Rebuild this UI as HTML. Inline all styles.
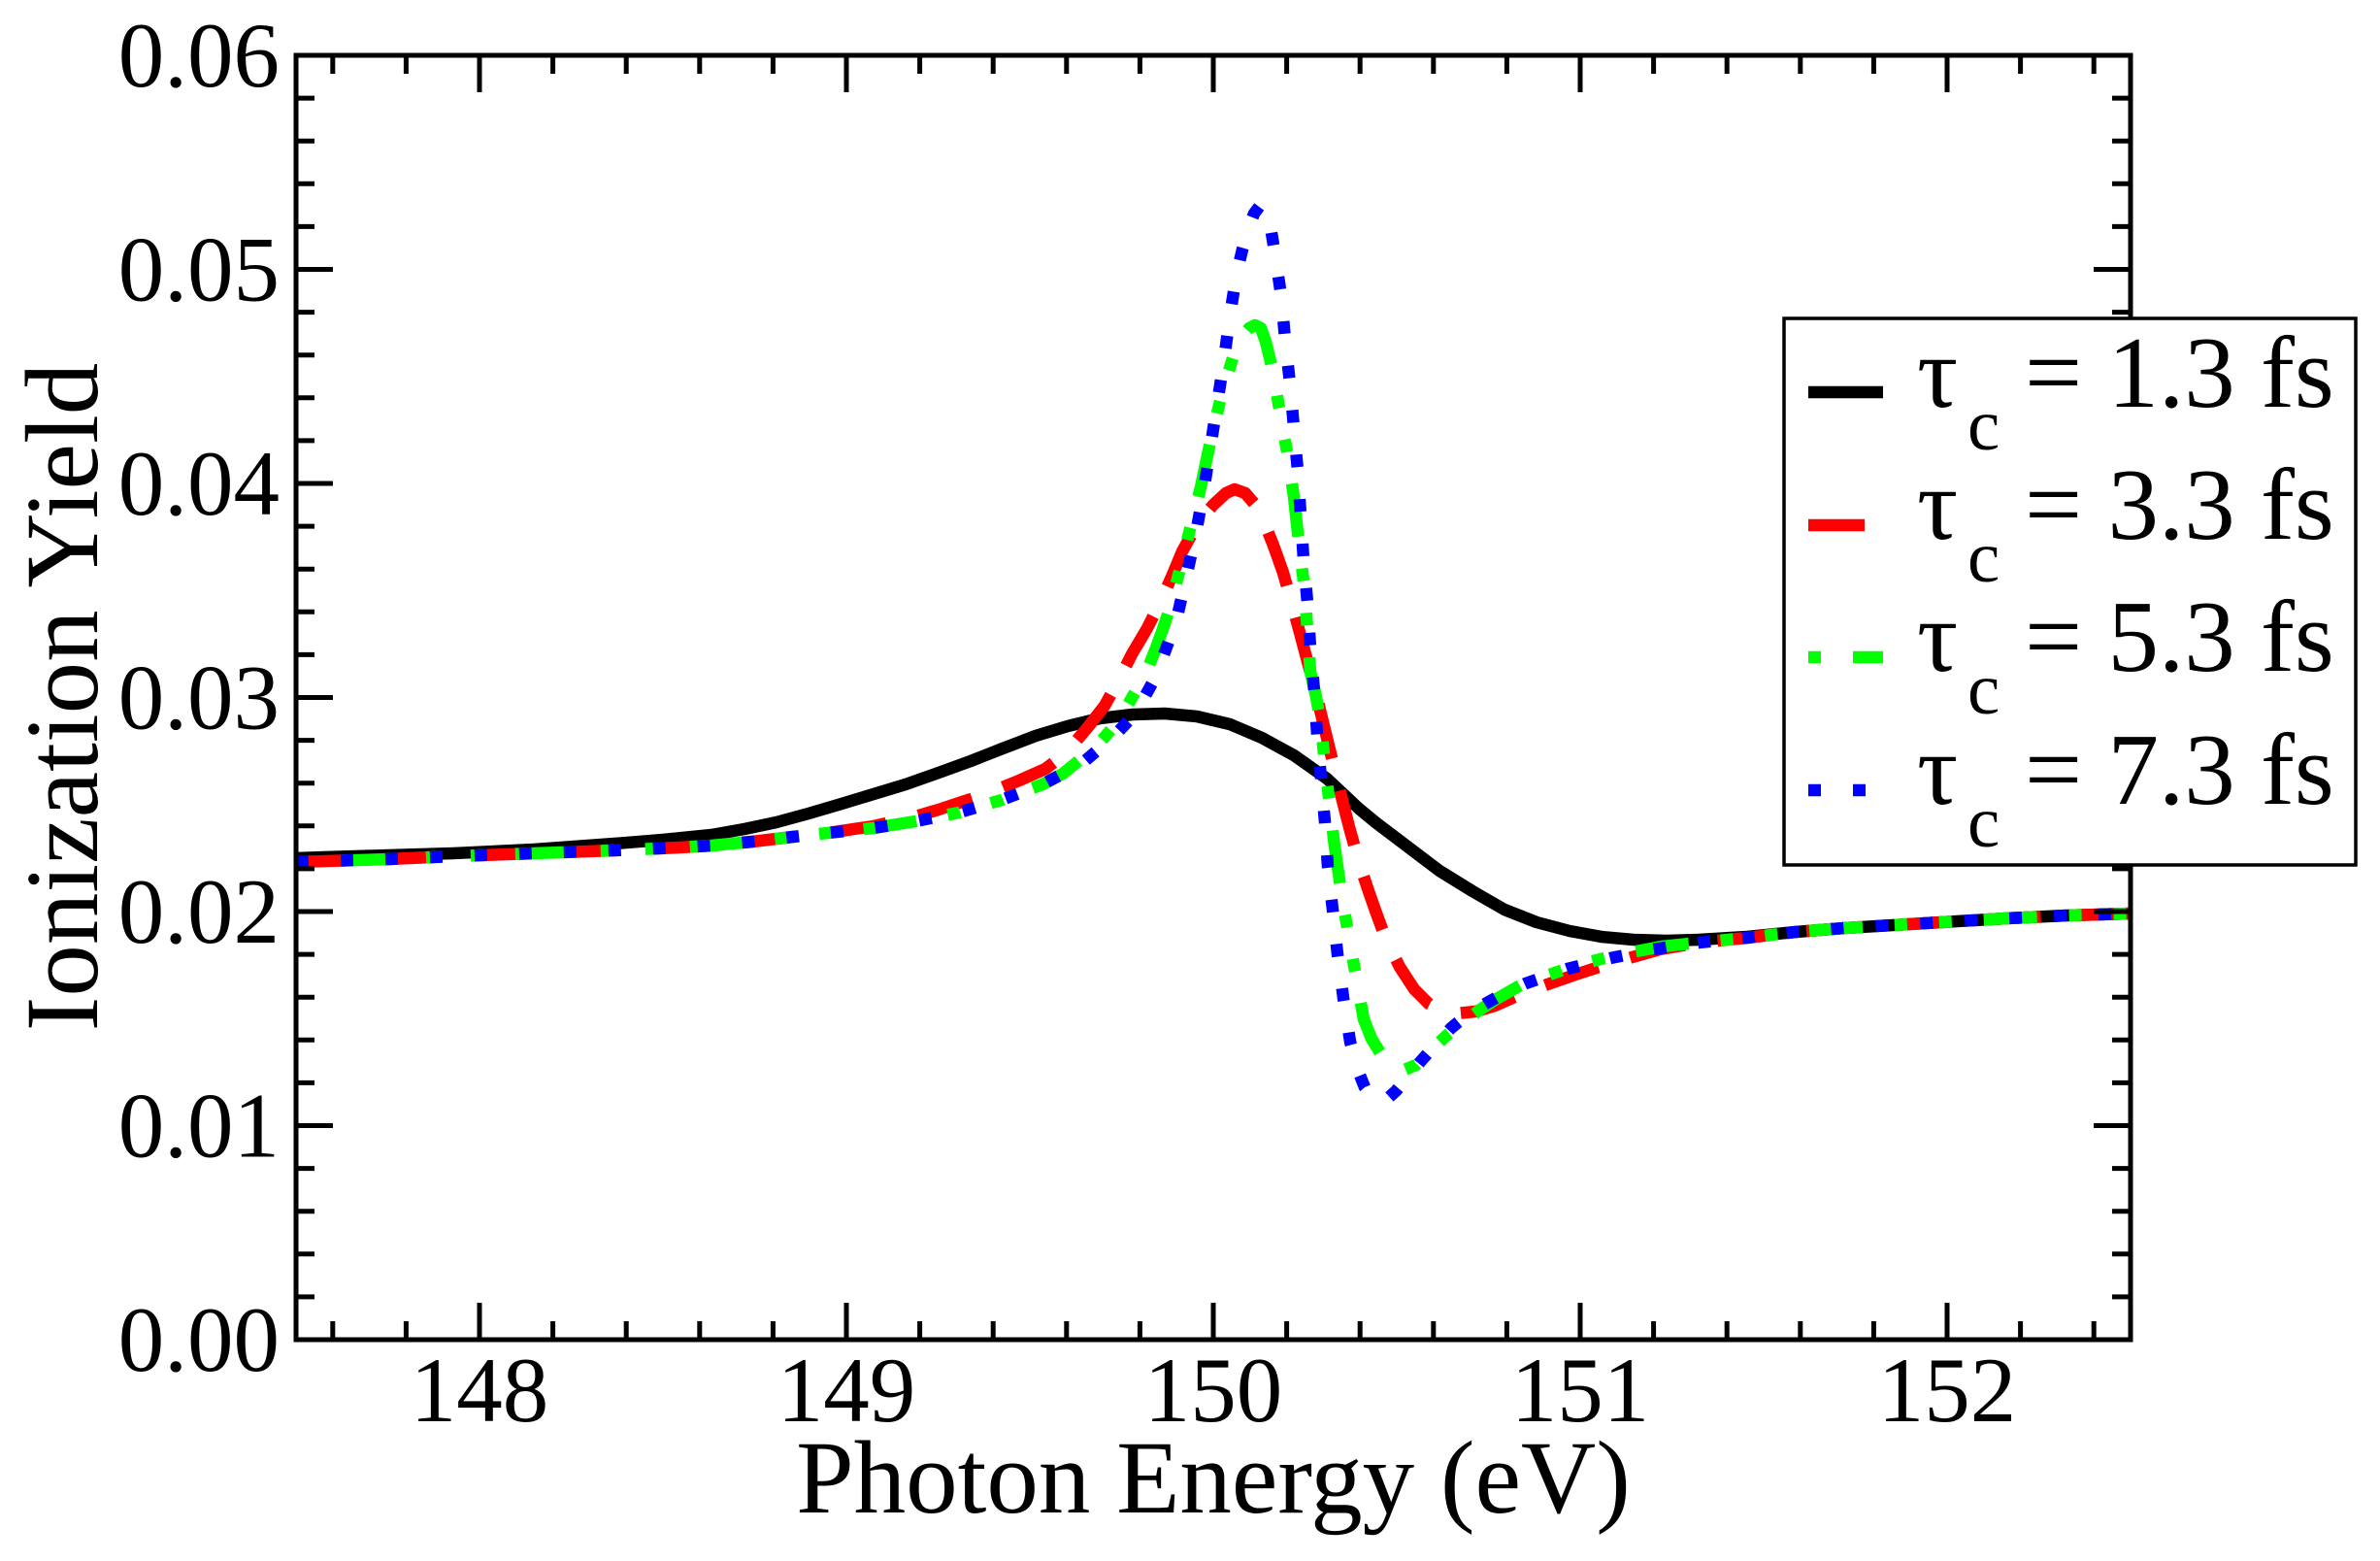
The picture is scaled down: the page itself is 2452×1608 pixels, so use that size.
<!DOCTYPE html>
<html><head><meta charset="utf-8"><style>
html,body{margin:0;padding:0;background:#fff;}
svg{display:block;}
text{font-family:"Liberation Serif","DejaVu Serif",serif;fill:#000;}
</style></head><body>
<svg width="2452" height="1608" viewBox="0 0 2452 1608" xmlns="http://www.w3.org/2000/svg">
<rect x="0" y="0" width="2452" height="1608" fill="#fff"/>

<!-- curves -->
<g fill="none" stroke-width="12.5" stroke-linejoin="round">
<polyline stroke="#000" points="305,884 333,883 400,881 467,879 550,875 633,869 683,865 733,860 767,854 800,847 833,838 867,828 900,818 933,808 967,796 1000,784 1033,771 1067,758 1100,748 1133,740 1167,736 1200,735 1233,738 1267,746 1300,760 1333,778 1367,802 1400,833 1417,847 1450,872 1483,897 1517,918 1550,937 1583,950 1617,959 1650,965 1683,968 1717,969 1750,968 1800,965 1850,960 1900,956 1950,953 2000,950 2067,946 2130,943 2195,941"/>
<polyline stroke="#ff0000" stroke-dasharray="58 34" points="305,888 400,885 467,882 550,879 633,876 700,873 733,871 775,867 817,862 853,858 900,851 943,841 967,834 988,827 1010,820 1023,815 1050,804 1077,792 1090,782 1103,770 1120,750 1138,727 1153,700 1166,674 1182,647 1197,617 1208,592 1218,568 1228,550 1237,535 1250,520 1263,508 1272,504 1283,508 1295,522 1302,537 1312,562 1322,590 1331,622 1340,655 1348,685 1356,715 1367,760 1378,805 1390,852 1400,888 1410,918 1417,938 1428,968 1442,996 1457,1019 1472,1034 1488,1042 1500,1044 1520,1042 1540,1036 1572,1022 1600,1012 1623,1004 1657,993 1710,978 1750,971 1800,966 1850,960 1900,956 1950,953 2000,950 2067,946 2130,943 2195,941"/>
<polyline stroke="#00ff00" stroke-dasharray="13 33 55 33 13 33" points="305,888 400,885 467,882 550,879 633,876 700,873 733,871 775,867 817,862 853,858 900,853 943,846 988,837 1032,824 1050,817 1074,808 1095,797 1117,779 1133,765 1146,750 1158,733 1170,712 1182,690 1190,670 1198,648 1205,627 1216,585 1227,541 1237,502 1248,450 1258,409 1266,382 1273,359 1280,346 1287,338 1293,335 1299,338 1304,352 1312,385 1319,427 1327,471 1333,512 1339,567 1344,606 1350,692 1356,718 1361,748 1365,787 1370,830 1375,872 1383,927 1390,967 1398,1011 1405,1050 1413,1070 1423,1086 1435,1097 1447,1102 1459,1097 1473,1083 1490,1067 1507,1053 1525,1040 1540,1030 1568,1014 1585,1008 1628,993 1670,983 1712,975 1750,971 1800,966 1850,960 1900,956 1950,953 2000,950 2067,946 2130,943 2195,941"/>
<polyline stroke="#0000ff" stroke-dasharray="13 33" points="305,888 400,885 467,882 550,879 633,876 700,873 733,871 775,867 817,862 853,858 900,853 943,846 988,837 1032,824 1074,808 1114,787 1148,758 1165,740 1177,722 1188,702 1197,680 1212,639 1222,595 1232,550 1240,506 1247,461 1254,416 1261,371 1267,326 1274,282 1280,257 1286,236 1292,220 1298,212 1304,216 1309,234 1313,258 1320,305 1324,350 1329,395 1333,440 1337,485 1340,530 1343,576 1347,621 1350,667 1354,712 1357,757 1361,802 1365,847 1368,893 1373,937 1378,983 1384,1028 1391,1073 1398,1100 1406,1120 1418,1134 1428,1133 1438,1124 1450,1110 1463,1094 1480,1075 1495,1059 1512,1045 1532,1033 1550,1023 1572,1013 1615,998 1659,987 1703,978 1750,971 1800,966 1850,960 1900,956 1950,953 2000,950 2067,946 2130,943 2195,941"/>
</g>

<!-- frame -->
<rect x="305" y="57" width="1890" height="1323" fill="none" stroke="#000" stroke-width="5"/>

<!-- ticks -->
<g stroke="#000" stroke-width="5" fill="none">
<path d="
M305,1380h38 M305,1335.9h19 M305,1291.8h19 M305,1247.7h19 M305,1203.6h19
M305,1159.5h38 M305,1115.4h19 M305,1071.3h19 M305,1027.2h19 M305,983.1h19
M305,939h38 M305,894.9h19 M305,850.8h19 M305,806.7h19 M305,762.6h19
M305,718.5h38 M305,674.4h19 M305,630.3h19 M305,586.2h19 M305,542.1h19
M305,498h38 M305,453.9h19 M305,409.8h19 M305,365.7h19 M305,321.6h19
M305,277.5h38 M305,233.4h19 M305,189.3h19 M305,145.2h19 M305,101.1h19
M305,57h38
M2195,1380h-38 M2195,1335.9h-19 M2195,1291.8h-19 M2195,1247.7h-19 M2195,1203.6h-19
M2195,1159.5h-38 M2195,1115.4h-19 M2195,1071.3h-19 M2195,1027.2h-19 M2195,983.1h-19
M2195,939h-38 M2195,894.9h-19 M2195,850.8h-19 M2195,806.7h-19 M2195,762.6h-19
M2195,718.5h-38 M2195,674.4h-19 M2195,630.3h-19 M2195,586.2h-19 M2195,542.1h-19
M2195,498h-38 M2195,453.9h-19 M2195,409.8h-19 M2195,365.7h-19 M2195,321.6h-19
M2195,277.5h-38 M2195,233.4h-19 M2195,189.3h-19 M2195,145.2h-19 M2195,101.1h-19
M2195,57h-38"/>
<path d="
M342.8,1380v-19 M418.4,1380v-19 M494,1380v-38 M569.6,1380v-19 M645.2,1380v-19
M720.8,1380v-19 M796.4,1380v-19 M872,1380v-38 M947.6,1380v-19 M1023.2,1380v-19
M1098.8,1380v-19 M1174.4,1380v-19 M1250,1380v-38 M1325.6,1380v-19 M1401.2,1380v-19
M1476.8,1380v-19 M1552.4,1380v-19 M1628,1380v-38 M1703.6,1380v-19 M1779.2,1380v-19
M1854.8,1380v-19 M1930.4,1380v-19 M2006,1380v-38 M2081.6,1380v-19 M2157.2,1380v-19
M342.8,57v19 M418.4,57v19 M494,57v38 M569.6,57v19 M645.2,57v19
M720.8,57v19 M796.4,57v19 M872,57v38 M947.6,57v19 M1023.2,57v19
M1098.8,57v19 M1174.4,57v19 M1250,57v38 M1325.6,57v19 M1401.2,57v19
M1476.8,57v19 M1552.4,57v19 M1628,57v38 M1703.6,57v19 M1779.2,57v19
M1854.8,57v19 M1930.4,57v19 M2006,57v38 M2081.6,57v19 M2157.2,57v19"/>
</g>

<!-- y tick labels -->
<g font-size="95" text-anchor="end">
<text x="288" y="1412">0.00</text>
<text x="288" y="1191.5">0.01</text>
<text x="288" y="971">0.02</text>
<text x="288" y="750.5">0.03</text>
<text x="288" y="530">0.04</text>
<text x="288" y="309.5">0.05</text>
<text x="288" y="89">0.06</text>
</g>

<!-- x tick labels -->
<g font-size="95" text-anchor="middle">
<text x="494" y="1464">148</text>
<text x="872" y="1464">149</text>
<text x="1250" y="1464">150</text>
<text x="1628" y="1464">151</text>
<text x="2006" y="1464">152</text>
</g>

<!-- axis titles -->
<text x="1250" y="1558" font-size="107" text-anchor="middle">Photon Energy (eV)</text>
<text transform="translate(100,718) rotate(-90)" font-size="107" text-anchor="middle">Ionization Yield</text>

<!-- legend -->
<rect x="1838" y="328" width="589" height="563" fill="#fff" stroke="#000" stroke-width="3.5"/>
<g stroke-width="12.5" fill="none">
<line x1="1863" y1="404" x2="1940" y2="404" stroke="#000"/>
<line x1="1863" y1="541" x2="1940" y2="541" stroke="#ff0000" stroke-dasharray="58 34"/>
<line x1="1863" y1="677" x2="1940" y2="677" stroke="#00ff00" stroke-dasharray="13 33 55 33 13 33"/>
<line x1="1863" y1="814" x2="1940" y2="814" stroke="#0000ff" stroke-dasharray="13 33"/>
</g>
<g font-size="105">
<text x="1975" y="419">τ</text><text x="2027" y="463" font-size="75">c</text><text x="2086" y="419">= 1.3 fs</text>
<text x="1975" y="555">τ</text><text x="2027" y="599" font-size="75">c</text><text x="2086" y="555">= 3.3 fs</text>
<text x="1975" y="691">τ</text><text x="2027" y="735" font-size="75">c</text><text x="2086" y="691">= 5.3 fs</text>
<text x="1975" y="828">τ</text><text x="2027" y="872" font-size="75">c</text><text x="2086" y="828">= 7.3 fs</text>
</g>
</svg>
</body></html>
